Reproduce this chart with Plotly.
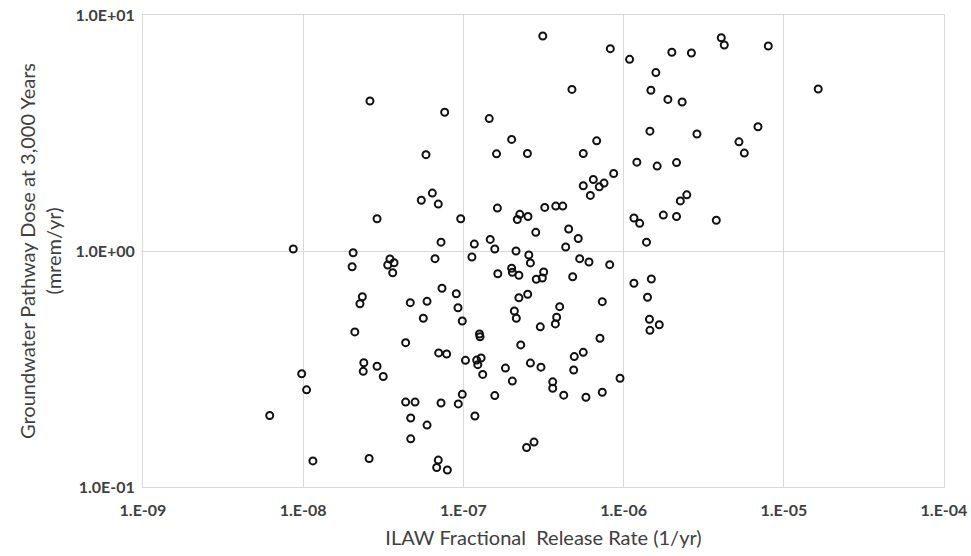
import plotly.graph_objects as go

# ILAW fractional release rate (1/yr)
release_rate = [
    2.61e-8, 3.13e-7, 4.76e-7, 7.64e-8, 1.45e-7, 2.0e-7, 5.84e-8, 1.61e-7, 2.51e-7, 5.6e-7,
    5.6e-7, 8.26e-7, 1.09e-6, 2.0e-6, 2.65e-6, 4.07e-6, 4.25e-6, 8.0e-6, 1.59e-6, 1.48e-6,
    1.89e-6, 2.32e-6, 6.79e-7, 1.46e-6, 2.87e-6, 6.9e-6, 5.25e-6, 5.67e-6, 1.21e-6, 1.62e-6,
    2.14e-6, 8.67e-7, 6.47e-7, 7.55e-7, 7.05e-7, 1.64e-5, 8.67e-9, 2.89e-8, 2.05e-8, 2.02e-8,
    3.48e-8, 3.69e-8, 3.37e-8, 3.62e-8, 2.34e-8, 2.26e-8, 4.66e-8, 2.1e-8, 6.4e-8, 5.46e-8,
    6.97e-8, 9.62e-8, 1.63e-7, 2.25e-7, 2.17e-7, 2.53e-7, 3.22e-7, 3.77e-7, 4.17e-7, 6.2e-7,
    2.83e-7, 4.54e-7, 5.21e-7, 4.35e-7, 7.25e-8, 1.17e-7, 1.47e-7, 1.57e-7, 1.13e-7, 6.65e-8,
    2.13e-7, 2.56e-7, 2.62e-7, 5.32e-7, 6.08e-7, 2.0e-7, 2.02e-7, 2.22e-7, 1.64e-7, 3.17e-7,
    3.11e-7, 2.85e-7, 4.81e-7, 7.35e-8, 9.03e-8, 5.93e-8, 9.25e-8, 2.22e-7, 2.52e-7, 5.62e-8,
    9.84e-8, 2.08e-7, 2.14e-7, 3.99e-7, 3.02e-7, 3.82e-7, 3.75e-7, 1.26e-7, 1.27e-7, 2.48e-6,
    2.26e-6, 1.77e-6, 2.14e-6, 1.16e-6, 1.26e-6, 3.79e-6, 1.39e-6, 8.19e-7, 1.49e-6, 1.16e-6,
    1.41e-6, 7.36e-7, 1.45e-6, 1.67e-6, 1.46e-6, 7.12e-7, 4.36e-8, 2.39e-8, 2.37e-8, 2.89e-8,
    3.16e-8, 9.79e-9, 1.05e-8, 6.18e-9, 4.36e-8, 4.99e-8, 4.69e-8, 4.69e-8, 1.15e-8, 2.58e-8,
    2.28e-7, 7.01e-8, 7.86e-8, 1.03e-7, 1.21e-7, 1.29e-7, 1.23e-7, 1.32e-7, 1.83e-7, 2.02e-7,
    2.62e-7, 3.05e-7, 3.61e-7, 3.61e-7, 4.23e-7, 4.92e-7, 5.6e-7, 4.88e-7, 5.82e-7, 9.84e-8,
    9.29e-8, 1.57e-7, 7.25e-8, 1.18e-7, 5.93e-8, 2.76e-7, 2.48e-7, 6.97e-8, 6.81e-8, 7.94e-8,
    9.5e-7, 7.36e-7,
]

# Groundwater pathway dose at 3,000 years (mrem/yr)
dose = [
    4.32, 8.15, 4.84, 3.87, 3.64, 2.97, 2.56, 2.58, 2.59, 2.59,
    1.89, 7.2, 6.49, 6.95, 6.9, 8.01, 7.46, 7.39, 5.7, 4.8,
    4.39, 4.28, 2.93, 3.22, 3.13, 3.36, 2.9, 2.6, 2.38, 2.29,
    2.37, 2.13, 2.01, 1.94, 1.87, 4.86, 1.02, 1.37, 0.983, 0.858,
    0.925, 0.892, 0.872, 0.809, 0.64, 0.598, 0.604, 0.454, 1.76, 1.64,
    1.58, 1.37, 1.52, 1.43, 1.36, 1.4, 1.53, 1.55, 1.55, 1.72,
    1.2, 1.24, 1.13, 1.04, 1.09, 1.07, 1.12, 1.02, 0.943, 0.928,
    1.0, 0.962, 0.89, 0.928, 0.898, 0.845, 0.812, 0.789, 0.801, 0.815,
    0.768, 0.759, 0.778, 0.695, 0.659, 0.612, 0.575, 0.634, 0.656, 0.519,
    0.505, 0.557, 0.519, 0.581, 0.477, 0.524, 0.491, 0.445, 0.433, 1.73,
    1.63, 1.42, 1.4, 1.38, 1.31, 1.35, 1.09, 0.875, 0.761, 0.73,
    0.637, 0.61, 0.514, 0.487, 0.461, 0.427, 0.409, 0.336, 0.309, 0.325,
    0.294, 0.302, 0.258, 0.201, 0.229, 0.229, 0.196, 0.16, 0.129, 0.132,
    0.4, 0.37, 0.366, 0.344, 0.345, 0.352, 0.33, 0.3, 0.319, 0.281,
    0.335, 0.322, 0.279, 0.262, 0.245, 0.357, 0.372, 0.313, 0.24, 0.247,
    0.225, 0.244, 0.227, 0.2, 0.183, 0.155, 0.147, 0.13, 0.121, 0.118,
    0.289, 0.252,
]

x_tickvals = [1e-9, 1e-8, 1e-7, 1e-6, 1e-5, 1e-4]
x_ticktext = ["1.E-09", "1.E-08", "1.E-07", "1.E-06", "1.E-05", "1.E-04"]
y_tickvals = [0.1, 1, 10]
y_ticktext = ["1.0E-01", "1.0E+00", "1.0E+01"]

FONT = "Lato, Calibri, Carlito, sans-serif"
TXT = "#404040"
GRID = "#d9d9d9"

fig = go.Figure(
    go.Scatter(
        x=release_rate,
        y=dose,
        mode="markers",
        marker=dict(symbol="circle-open", size=7, color="#111111",
                    line=dict(width=2, color="#111111")),
        hoverinfo="x+y",
        showlegend=False,
    )
)

fig.update_layout(
    width=971,
    height=556,
    margin=dict(l=143, r=27, t=15, b=69),
    paper_bgcolor="white",
    plot_bgcolor="white",
    font=dict(family=FONT, color=TXT),
    xaxis=dict(
        type="log",
        range=[-9, -4],
        automargin=False,
        tickvals=x_tickvals,
        ticktext=x_ticktext,
        tickfont=dict(family=FONT, size=16, color=TXT, weight="bold"),
        ticklabelstandoff=9,
        showgrid=True,
        gridcolor=GRID,
        gridwidth=1,
        showline=True,
        linecolor=GRID,
        linewidth=1,
        mirror=True,
        zeroline=False,
        ticks="",
        title=dict(text="ILAW Fractional  Release Rate (1/yr)",
                   font=dict(family=FONT, size=20, color=TXT), standoff=12),
    ),
    yaxis=dict(
        type="log",
        range=[-1, 1],
        automargin=False,
        tickvals=y_tickvals,
        ticktext=y_ticktext,
        tickfont=dict(family=FONT, size=16, color=TXT, weight="bold"),
        ticklabelstandoff=4,
        showgrid=True,
        gridcolor=GRID,
        gridwidth=1,
        showline=True,
        linecolor=GRID,
        linewidth=1,
        mirror=True,
        zeroline=False,
        ticks="",
        title=dict(text="Groundwater Pathway Dose at 3,000 Years<br>(mrem/yr)",
                   font=dict(family=FONT, size=20, color=TXT), standoff=8),
    ),
)

fig.write_html("out.html")
